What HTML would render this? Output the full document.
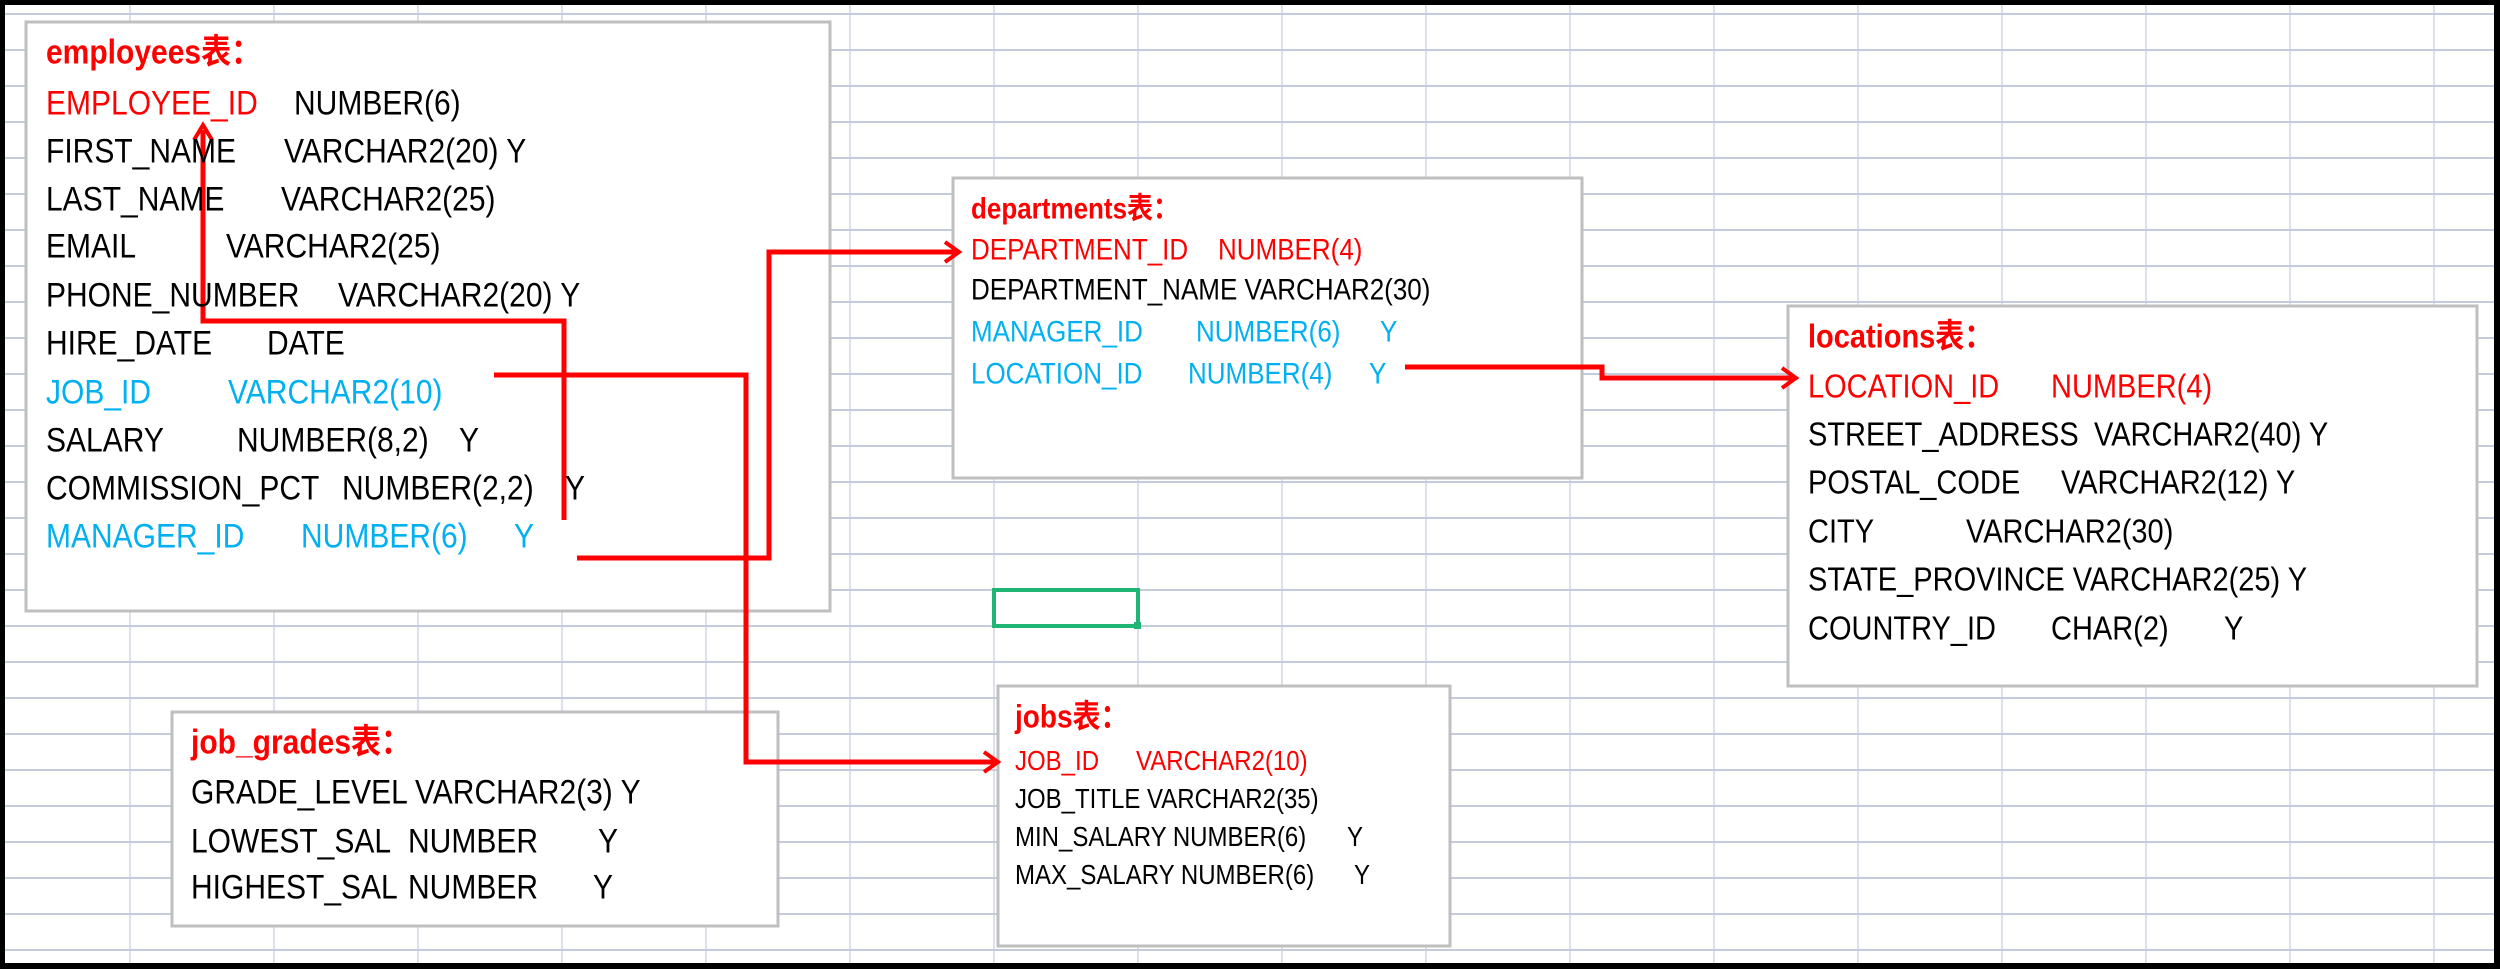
<!DOCTYPE html>
<html><head><meta charset="utf-8">
<style>
html,body{margin:0;padding:0;background:#fff;}
#c{position:relative;width:2500px;height:969px;overflow:hidden;background:#fff;}
svg{position:absolute;left:0;top:0;}
.t{position:absolute;white-space:nowrap;font-family:"Liberation Sans","Noto Sans CJK SC",sans-serif;line-height:1;transform:scaleY(1.15);transform-origin:50% 50%;}
.r{color:#ff0000}.b{color:#00b0f0}.k{color:#000}
.h{font-weight:bold;color:#ff0000}
</style></head><body><div id="c">
<svg width="2500" height="969" xmlns="http://www.w3.org/2000/svg">
<g stroke="#c4cbda" stroke-width="1.2">
<line x1="130" y1="0" x2="130" y2="969"/><line x1="274" y1="0" x2="274" y2="969"/><line x1="418" y1="0" x2="418" y2="969"/><line x1="562" y1="0" x2="562" y2="969"/><line x1="706" y1="0" x2="706" y2="969"/><line x1="850" y1="0" x2="850" y2="969"/><line x1="994" y1="0" x2="994" y2="969"/><line x1="1138" y1="0" x2="1138" y2="969"/><line x1="1282" y1="0" x2="1282" y2="969"/><line x1="1426" y1="0" x2="1426" y2="969"/><line x1="1570" y1="0" x2="1570" y2="969"/><line x1="1714" y1="0" x2="1714" y2="969"/><line x1="1858" y1="0" x2="1858" y2="969"/><line x1="2002" y1="0" x2="2002" y2="969"/><line x1="2146" y1="0" x2="2146" y2="969"/><line x1="2290" y1="0" x2="2290" y2="969"/><line x1="2434" y1="0" x2="2434" y2="969"/>
</g>
<g stroke="#c4cbda" stroke-width="2">
<line x1="0" y1="14" x2="2500" y2="14"/><line x1="0" y1="50" x2="2500" y2="50"/><line x1="0" y1="86" x2="2500" y2="86"/><line x1="0" y1="122" x2="2500" y2="122"/><line x1="0" y1="158" x2="2500" y2="158"/><line x1="0" y1="194" x2="2500" y2="194"/><line x1="0" y1="230" x2="2500" y2="230"/><line x1="0" y1="266" x2="2500" y2="266"/><line x1="0" y1="302" x2="2500" y2="302"/><line x1="0" y1="338" x2="2500" y2="338"/><line x1="0" y1="374" x2="2500" y2="374"/><line x1="0" y1="410" x2="2500" y2="410"/><line x1="0" y1="446" x2="2500" y2="446"/><line x1="0" y1="482" x2="2500" y2="482"/><line x1="0" y1="518" x2="2500" y2="518"/><line x1="0" y1="554" x2="2500" y2="554"/><line x1="0" y1="590" x2="2500" y2="590"/><line x1="0" y1="626" x2="2500" y2="626"/><line x1="0" y1="662" x2="2500" y2="662"/><line x1="0" y1="698" x2="2500" y2="698"/><line x1="0" y1="734" x2="2500" y2="734"/><line x1="0" y1="770" x2="2500" y2="770"/><line x1="0" y1="806" x2="2500" y2="806"/><line x1="0" y1="842" x2="2500" y2="842"/><line x1="0" y1="878" x2="2500" y2="878"/><line x1="0" y1="914" x2="2500" y2="914"/><line x1="0" y1="950" x2="2500" y2="950"/>
</g>
<g fill="#fff" stroke="#bfbfbf" stroke-width="3">
<rect x="26" y="22" width="804" height="589"/>
<rect x="953" y="178" width="629" height="300"/>
<rect x="1788" y="306" width="689" height="380"/>
<rect x="172" y="712" width="606" height="214"/>
<rect x="998" y="686" width="452" height="260"/>
</g>
<rect x="994" y="590" width="144" height="36" fill="none" stroke="#21b573" stroke-width="4"/>
<rect x="1134" y="622" width="7" height="7" fill="#21b573"/>
<g fill="none" stroke="#ff0000" stroke-width="5" stroke-linejoin="miter">
<polyline points="564,520 564,321 203,321 203,130"/>
<polyline points="494,375 746,375 746,762 994,762"/>
<polyline points="577,558 769,558 769,252 955,252"/>
<polyline points="1405,367 1602,367 1602,378 1792,378"/>
</g>
<g fill="none" stroke="#ff0000" stroke-width="4">
<polyline points="194,140 203,125 212,140"/>
<polyline points="984,752 998,762 984,772"/>
<polyline points="945,242 959,252 945,262"/>
<polyline points="1782,368 1796,378 1782,388"/>
</g>
<rect x="0" y="0" width="2500" height="5" fill="#000"/>
<rect x="0" y="963" width="2500" height="6" fill="#000"/>
<rect x="0" y="0" width="5" height="969" fill="#000"/>
<rect x="2494" y="0" width="6" height="969" fill="#000"/>
</svg>

<!-- employees -->
<div class="t h" style="left:46px;top:38px;font-size:30px">employees表：</div>
<div class="t r" style="left:46px;top:89px;font-size:30px">EMPLOYEE_ID</div><div class="t k" style="left:294px;top:89px;font-size:30px">NUMBER(6)</div>
<div class="t k" style="left:46px;top:137px;font-size:30px">FIRST_NAME</div><div class="t k" style="left:284px;top:137px;font-size:30px">VARCHAR2(20) Y</div>
<div class="t k" style="left:46px;top:185px;font-size:30px">LAST_NAME</div><div class="t k" style="left:281px;top:185px;font-size:30px">VARCHAR2(25)</div>
<div class="t k" style="left:46px;top:232px;font-size:30px">EMAIL</div><div class="t k" style="left:226px;top:232px;font-size:30px">VARCHAR2(25)</div>
<div class="t k" style="left:46px;top:281px;font-size:30px">PHONE_NUMBER</div><div class="t k" style="left:338px;top:281px;font-size:30px">VARCHAR2(20) Y</div>
<div class="t k" style="left:46px;top:329px;font-size:30px">HIRE_DATE</div><div class="t k" style="left:267px;top:329px;font-size:30px">DATE</div>
<div class="t b" style="left:46px;top:378px;font-size:30px">JOB_ID</div><div class="t b" style="left:228px;top:378px;font-size:30px">VARCHAR2(10)</div>
<div class="t k" style="left:46px;top:426px;font-size:30px">SALARY</div><div class="t k" style="left:237px;top:426px;font-size:30px">NUMBER(8,2)</div><div class="t k" style="left:459px;top:426px;font-size:30px">Y</div>
<div class="t k" style="left:46px;top:474px;font-size:30px">COMMISSION_PCT</div><div class="t k" style="left:342px;top:474px;font-size:30px">NUMBER(2,2)</div><div class="t k" style="left:565px;top:474px;font-size:30px">Y</div>
<div class="t b" style="left:46px;top:522px;font-size:30px">MANAGER_ID</div><div class="t b" style="left:301px;top:522px;font-size:30px">NUMBER(6)</div><div class="t b" style="left:514px;top:522px;font-size:30px">Y</div>

<!-- departments -->
<div class="t h" style="left:971px;top:195px;font-size:26px">departments表：</div>
<div class="t r" style="left:971px;top:236px;font-size:26px">DEPARTMENT_ID</div><div class="t r" style="left:1218px;top:236px;font-size:26px">NUMBER(4)</div>
<div class="t k" style="left:971px;top:276px;font-size:26px">DEPARTMENT_NAME VARCHAR2(30)</div>
<div class="t b" style="left:971px;top:318px;font-size:26px">MANAGER_ID</div><div class="t b" style="left:1196px;top:318px;font-size:26px">NUMBER(6)</div><div class="t b" style="left:1380px;top:318px;font-size:26px">Y</div>
<div class="t b" style="left:971px;top:360px;font-size:26px">LOCATION_ID</div><div class="t b" style="left:1188px;top:360px;font-size:26px">NUMBER(4)</div><div class="t b" style="left:1369px;top:360px;font-size:26px">Y</div>

<!-- locations -->
<div class="t h" style="left:1808px;top:323px;font-size:29px">locations表：</div>
<div class="t r" style="left:1808px;top:373px;font-size:29px">LOCATION_ID</div><div class="t r" style="left:2051px;top:373px;font-size:29px">NUMBER(4)</div>
<div class="t k" style="left:1808px;top:421px;font-size:29px">STREET_ADDRESS</div><div class="t k" style="left:2094px;top:421px;font-size:29px">VARCHAR2(40) Y</div>
<div class="t k" style="left:1808px;top:469px;font-size:29px">POSTAL_CODE</div><div class="t k" style="left:2061px;top:469px;font-size:29px">VARCHAR2(12) Y</div>
<div class="t k" style="left:1808px;top:518px;font-size:29px">CITY</div><div class="t k" style="left:1966px;top:518px;font-size:29px">VARCHAR2(30)</div>
<div class="t k" style="left:1808px;top:566px;font-size:29px">STATE_PROVINCE VARCHAR2(25) Y</div>
<div class="t k" style="left:1808px;top:615px;font-size:29px">COUNTRY_ID</div><div class="t k" style="left:2051px;top:615px;font-size:29px">CHAR(2)</div><div class="t k" style="left:2224px;top:615px;font-size:29px">Y</div>

<!-- job_grades -->
<div class="t h" style="left:191px;top:728px;font-size:30px">job_grades表：</div>
<div class="t k" style="left:191px;top:778px;font-size:30px">GRADE_LEVEL VARCHAR2(3) Y</div>
<div class="t k" style="left:191px;top:827px;font-size:30px">LOWEST_SAL</div><div class="t k" style="left:408px;top:827px;font-size:30px">NUMBER</div><div class="t k" style="left:598px;top:827px;font-size:30px">Y</div>
<div class="t k" style="left:191px;top:873px;font-size:30px">HIGHEST_SAL</div><div class="t k" style="left:408px;top:873px;font-size:30px">NUMBER</div><div class="t k" style="left:593px;top:873px;font-size:30px">Y</div>

<!-- jobs -->
<div class="t h" style="left:1015px;top:703px;font-size:28px">jobs表：</div>
<div class="t r" style="left:1015px;top:750px;font-size:24px">JOB_ID</div><div class="t r" style="left:1136px;top:750px;font-size:24px">VARCHAR2(10)</div>
<div class="t k" style="left:1015px;top:788px;font-size:24px">JOB_TITLE VARCHAR2(35)</div>
<div class="t k" style="left:1015px;top:826px;font-size:24px">MIN_SALARY NUMBER(6)</div><div class="t k" style="left:1347px;top:826px;font-size:24px">Y</div>
<div class="t k" style="left:1015px;top:864px;font-size:24px">MAX_SALARY NUMBER(6)</div><div class="t k" style="left:1354px;top:864px;font-size:24px">Y</div>
</div></body></html>
